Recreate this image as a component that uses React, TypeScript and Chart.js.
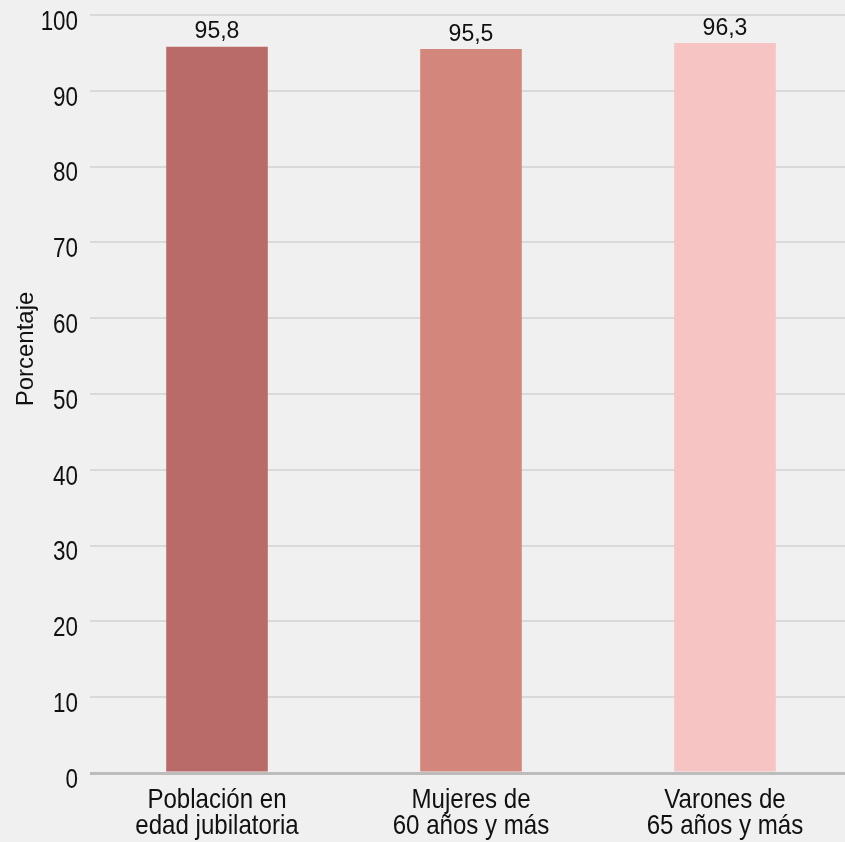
import React, { useEffect, useRef } from "react";
import { Chart, registerables } from "chart.js";

Chart.register(...registerables);

const categories: string[][] = [
  ["Población en", "edad jubilatoria"],
  ["Mujeres de", "60 años y más"],
  ["Varones de", "65 años y más"],
];
const values: number[] = [95.8, 95.5, 96.3];
const valueLabels: string[] = ["95,8", "95,5", "96,3"];
const barColors: string[] = ["#b86b68", "#d3877c", "#f6c4c3"];
const yTitle = "Porcentaje";
const yMin = 0;
const yMax = 100;
const yStep = 10;

const REGULAR = '"Liberation Sans", Arial, Helvetica, sans-serif';
const Y_SQUEEZE = 0.8;
const X_SQUEEZE = 0.86;

export default function App() {
  const ref = useRef<HTMLCanvasElement | null>(null);

  useEffect(() => {
    if (!ref.current) return;

    const bgPlugin = {
      id: "bg",
      beforeDraw(chart: any) {
        const ctx = chart.ctx;
        ctx.save();
        ctx.fillStyle = "#f0f0f0";
        ctx.fillRect(0, 0, chart.width, chart.height);
        ctx.restore();
      },
    };

    // Condensed tick labels, placed from the library's own scales
    const tickPlugin = {
      id: "condensedTicks",
      afterDraw(chart: any) {
        const ctx = chart.ctx;
        const ys = chart.scales.y;
        const xs = chart.scales.x;
        ctx.save();
        ctx.fillStyle = "#111111";
        ctx.font = `28px ${REGULAR}`;
        ctx.textBaseline = "middle";
        ctx.textAlign = "right";
        ys.ticks.forEach((t: any) => {
          const y = ys.getPixelForValue(t.value) + 7;
          ctx.save();
          ctx.translate(78, y);
          ctx.scale(Y_SQUEEZE, 1);
          ctx.fillText(String(t.label), 0, 0);
          ctx.restore();
        });
        ctx.textAlign = "center";
        ctx.textBaseline = "alphabetic";
        xs.ticks.forEach((t: any, i: number) => {
          const x = xs.getPixelForTick(i);
          const lines: string[] = Array.isArray(t.label) ? t.label : [String(t.label)];
          lines.forEach((line: string, j: number) => {
            ctx.save();
            ctx.translate(x, xs.top + 35 + j * 26);
            ctx.scale(X_SQUEEZE, 1);
            ctx.fillText(line, 0, 0);
            ctx.restore();
          });
        });
        ctx.restore();
      },
    };

    const labelPlugin = {
      id: "valueLabels",
      afterDatasetsDraw(chart: any) {
        const ctx = chart.ctx;
        const meta = chart.getDatasetMeta(0);
        ctx.save();
        ctx.font = `23px ${REGULAR}`;
        ctx.fillStyle = "#111111";
        ctx.textAlign = "center";
        ctx.textBaseline = "alphabetic";
        meta.data.forEach((bar: any, i: number) => {
          ctx.fillText(valueLabels[i], bar.x, bar.y - 8.5);
        });
        ctx.restore();
      },
    };

    const titlePlugin = {
      id: "yTitle",
      afterDraw(chart: any) {
        const ctx = chart.ctx;
        ctx.save();
        ctx.translate(26, 349);
        ctx.rotate(-Math.PI / 2);
        ctx.font = `24px ${REGULAR}`;
        ctx.fillStyle = "#111111";
        ctx.textAlign = "center";
        ctx.textBaseline = "middle";
        ctx.fillText(yTitle, 0, 0);
        ctx.restore();
      },
    };

    const chart = new Chart(ref.current, {
      type: "bar",
      data: {
        labels: categories,
        datasets: [
          {
            data: values,
            backgroundColor: barColors,
            borderWidth: 0,
            categoryPercentage: 1,
            barPercentage: 0.4,
          },
        ],
      },
      options: {
        responsive: false,
        animation: false,
        layout: { padding: { top: 15, right: 0, left: 0, bottom: 0 } },
        plugins: {
          legend: { display: false },
          tooltip: { enabled: false },
        },
        scales: {
          x: {
            grid: { display: false, drawTicks: false },
            border: { display: false },
            ticks: {
              display: false,
              autoSkip: false,
              maxRotation: 0,
            },
            afterFit(scale: any) {
              scale.height = 69;
            },
          },
          y: {
            min: yMin,
            max: yMax,
            border: { display: false },
            grid: {
              drawTicks: false,
              color: (c: any) => (c.tick && c.tick.value === 0 ? "#bcbcbc" : "#d9d9d9"),
              lineWidth: (c: any) => (c.tick && c.tick.value === 0 ? 3 : 2),
            },
            ticks: {
              display: false,
              stepSize: yStep,
            },
            afterFit(scale: any) {
              scale.width = 90;
            },
          },
        },
      },
      plugins: [bgPlugin, tickPlugin, labelPlugin, titlePlugin],
    });

    return () => chart.destroy();
  }, []);

  return (
    <div
      style={{
        position: "fixed",
        left: 0,
        top: 0,
        width: 845,
        height: 842,
        overflow: "hidden",
        background: "#f0f0f0",
      }}
    >
      <canvas ref={ref} width={852} height={842} style={{ display: "block" }} />
    </div>
  );
}
